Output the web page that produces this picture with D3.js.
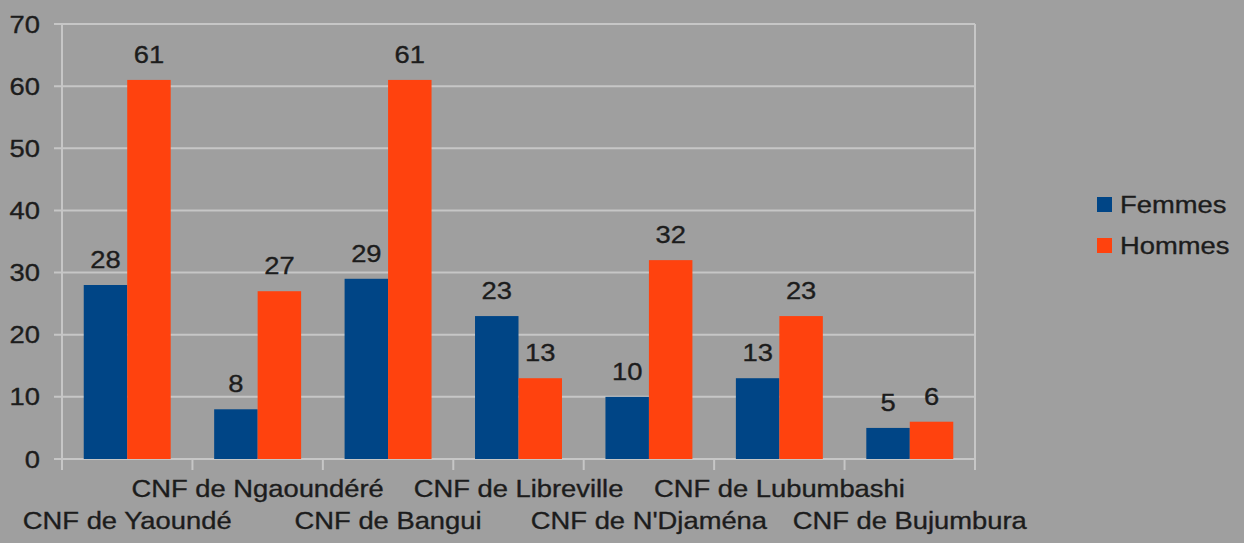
<!DOCTYPE html>
<html>
<head>
<meta charset="utf-8">
<script src="https://cdn.jsdelivr.net/npm/d3@7"></script>
<style>
  body { margin: 0; background: #9f9f9f; }
  svg text { font-family: "Liberation Sans", Arial, sans-serif; fill: #1c1c1c; stroke: #1c1c1c; stroke-width: 0.35px; font-size: 24px; }
</style>
</head>
<body>
<svg id="graph"></svg>
<script>
var categories = ["CNF de Yaoundé", "CNF de Ngaoundéré", "CNF de Bangui", "CNF de Libreville",
                  "CNF de N'Djaména", "CNF de Lubumbashi", "CNF de Bujumbura"];
var femmes = [28, 8, 29, 23, 10, 13, 5];
var hommes = [61, 27, 61, 13, 32, 23, 6];
var seriesNames = ["Femmes", "Hommes"];
var seriesColors = ["#004586", "#ff420e"];
var yTicks = [0, 10, 20, 30, 40, 50, 60, 70];

var screen = {width: 1244, height: 543};
var margin = {left: 62, right: 269, top: 24, bottom: 84};
var stretch = 1.14; // the text in the picture is a bit wide

var svg = d3.select("#graph")
  .attr("width", screen.width)
  .attr("height", screen.height);

var place = function (x, y) {
  return "translate(" + x + "," + y + ") scale(" + stretch + ",1)";
};

//---------scales---------
var xScale = d3.scaleBand()
  .domain(categories)
  .range([margin.left, screen.width - margin.right])
  .paddingInner(1 / 3)
  .paddingOuter(1 / 6);

var inner = d3.scaleBand()
  .domain(seriesNames)
  .range([0, xScale.bandwidth()]);

var yScale = d3.scaleLinear()
  .domain([0, 70])
  .range([screen.height - margin.bottom, margin.top]);

//---------grid---------
svg.append("g")
  .selectAll("line")
  .data(yTicks)
  .enter()
  .append("line")
  .attr("x1", margin.left - 8)
  .attr("x2", screen.width - margin.right)
  .attr("y1", function (d) { return yScale(d); })
  .attr("y2", function (d) { return yScale(d); })
  .attr("stroke", "#c6c6c6")
  .attr("stroke-width", 2);

// vertical separators between categories
var step = xScale.step();
var seps = d3.range(categories.length + 1);
svg.append("g")
  .selectAll("line")
  .data(seps)
  .enter()
  .append("line")
  .attr("x1", function (i) { return margin.left + i * step; })
  .attr("x2", function (i) { return margin.left + i * step; })
  .attr("y1", function (i) { return (i == 0 || i == categories.length) ? margin.top : yScale(0); })
  .attr("y2", yScale(0) + 11)
  .attr("stroke", "#c6c6c6")
  .attr("stroke-width", 2);

// y labels
svg.append("g")
  .selectAll("text")
  .data(yTicks)
  .enter()
  .append("text")
  .attr("transform", function (d) { return place(40, yScale(d)); })
  .attr("dy", "0.36em")
  .attr("text-anchor", "end")
  .text(function (d) { return d; });

//---------bars---------
var rows = categories.map(function (c, i) {
  return {cat: c, values: [femmes[i], hommes[i]]};
});

var groups = svg.append("g")
  .selectAll("g")
  .data(rows)
  .enter()
  .append("g")
  .attr("transform", function (r) { return "translate(" + xScale(r.cat) + ",0)"; });

groups.selectAll("rect")
  .data(function (r) { return r.values; })
  .enter()
  .append("rect")
  .attr("x", function (v, j) { return inner(seriesNames[j]); })
  .attr("width", inner.bandwidth())
  .attr("y", function (v) { return yScale(v); })
  .attr("height", function (v) { return yScale(0) - yScale(v); })
  .attr("fill", function (v, j) { return seriesColors[j]; });

groups.selectAll("text")
  .data(function (r) { return r.values; })
  .enter()
  .append("text")
  .attr("transform", function (v, j) {
    return place(inner(seriesNames[j]) + inner.bandwidth() / 2, yScale(v) - 17);
  })
  .attr("text-anchor", "middle")
  .text(function (v) { return v; });

// x labels, staggered
svg.append("g")
  .selectAll("text")
  .data(categories)
  .enter()
  .append("text")
  .attr("transform", function (c, i) {
    return place(xScale(c) + xScale.bandwidth() / 2, i % 2 == 0 ? 529 : 497);
  })
  .attr("text-anchor", "middle")
  .text(function (c) { return c; });

//---------legend---------
var legend = svg.append("g")
  .selectAll("g")
  .data(seriesNames)
  .enter()
  .append("g")
  .attr("transform", function (d, i) { return "translate(1097," + (204 + i * 41) + ")"; });

legend.append("rect")
  .attr("x", 0)
  .attr("y", -7)
  .attr("width", 15)
  .attr("height", 15)
  .attr("fill", function (d, i) { return seriesColors[i]; });

legend.append("text")
  .attr("transform", place(23, 0))
  .attr("dy", "0.36em")
  .text(function (d) { return d; });
</script>
</body>
</html>
